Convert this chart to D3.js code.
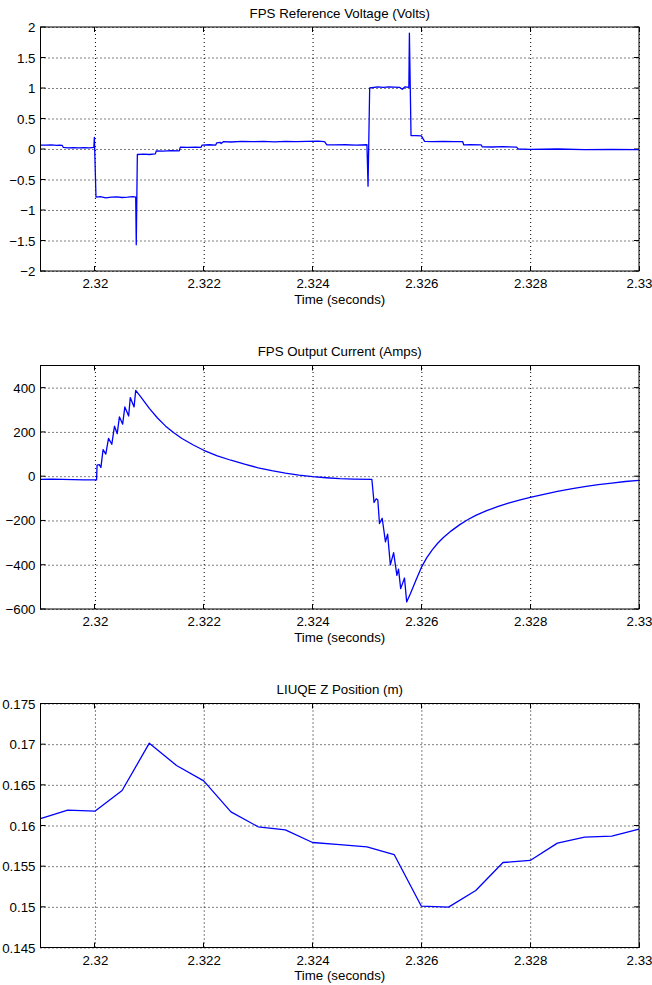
<!DOCTYPE html>
<html>
<head>
<meta charset="utf-8">
<script src="https://cdn.jsdelivr.net/npm/d3@7"></script>
<style>
  html, body { margin: 0; padding: 0; background: #fff; }
  svg { display: block; }
  text { font-family: "Liberation Sans", Arial, Helvetica, sans-serif; fill: #000; }
</style>
</head>
<body>
<svg id="chart" width="652" height="985"></svg>
<script>
// ---------------- DATA ----------------
const xTicks = [2.32, 2.322, 2.324, 2.326, 2.328, 2.33];
const xTickLabels = ["2.32", "2.322", "2.324", "2.326", "2.328", "2.33"];

const titles = ["FPS Reference Voltage (Volts)", "FPS Output Current (Amps)", "LIUQE Z Position (m)"];
const xLabel = "Time (seconds)";

// Panel 1: FPS reference voltage
const voltTicks = [-2, -1.5, -1, -0.5, 0, 0.5, 1, 1.5, 2];
const voltTickLabels = ["\u22122", "\u22121.5", "\u22121", "\u22120.5", "0", "0.5", "1", "1.5", "2"];
const voltT = [
  2.31900, 2.31910, 2.31920, 2.31930, 2.31935, 2.31940, 2.31942, 2.31950, 2.31960, 2.31970,
  2.31980, 2.31990, 2.31998, 2.31999, 2.32002, 2.32010, 2.32020, 2.32030, 2.32040, 2.32050,
  2.32060, 2.32070, 2.32075, 2.32076, 2.32078, 2.32090, 2.32100, 2.32111, 2.32113, 2.32125,
  2.32140, 2.32155, 2.32157, 2.32170, 2.32185, 2.32195, 2.32197, 2.32210, 2.32222, 2.32224,
  2.32230, 2.32232, 2.32236, 2.32250, 2.32270, 2.32290, 2.32310, 2.32330, 2.32350, 2.32370,
  2.32390, 2.32410, 2.32422, 2.32426, 2.32440, 2.32460, 2.32480, 2.32500, 2.32502, 2.32505,
  2.32520, 2.32530, 2.32540, 2.32550, 2.32560, 2.32565, 2.32570, 2.32577, 2.32578, 2.32581,
  2.32590, 2.32600, 2.32603, 2.32606, 2.32620, 2.32640, 2.32660, 2.32676, 2.32678, 2.32690,
  2.32710, 2.32712, 2.32730, 2.32750, 2.32775, 2.32778, 2.32800, 2.32850, 2.32900, 2.32950,
  2.33000
];
const voltV = [
  0.065, 0.062, 0.066, 0.060, 0.064, 0.058, 0.025, 0.020, 0.024, 0.018,
  0.022, 0.020, 0.025, 0.190, -0.790, -0.780, -0.800, -0.790, -0.785, -0.795,
  -0.790, -0.780, -0.790, -1.570, -0.090, -0.085, -0.090, -0.080, -0.030, -0.035,
  -0.025, -0.030, 0.030, 0.025, 0.032, 0.028, 0.065, 0.070, 0.065, 0.100,
  0.110, 0.090, 0.120, 0.115, 0.125, 0.120, 0.125, 0.118, 0.125, 0.120,
  0.125, 0.130, 0.120, 0.070, 0.068, 0.070, 0.065, 0.070, -0.610, 1.000,
  1.020, 1.010, 1.020, 1.015, 1.010, 0.980, 1.020, 1.010, 1.900, 0.220,
  0.220, 0.215, 0.170, 0.125, 0.120, 0.125, 0.120, 0.120, 0.066, 0.070,
  0.066, 0.035, 0.033, 0.038, 0.030, 0.000, -0.005, 0.000, -0.010, -0.005,
  -0.010
];

// Panel 2: FPS output current
const currTicks = [-600, -400, -200, 0, 200, 400];
const currTickLabels = ["\u2212600", "\u2212400", "\u2212200", "0", "200", "400"];
const currT = [
  2.31900, 2.31920, 2.31940, 2.31960, 2.31980, 2.32003, 2.32004, 2.32008, 2.32011, 2.32015,
  2.32020, 2.32025, 2.32031, 2.32036, 2.32041, 2.32045, 2.32051, 2.32055, 2.32062, 2.32065,
  2.32072, 2.32075, 2.32085, 2.32100, 2.32115, 2.32130, 2.32145, 2.32160, 2.32180, 2.32200,
  2.32225, 2.32250, 2.32275, 2.32300, 2.32325, 2.32350, 2.32375, 2.32400, 2.32425, 2.32450,
  2.32475, 2.32509, 2.32513, 2.32517, 2.32520, 2.32523, 2.32528, 2.32534, 2.32538, 2.32543,
  2.32549, 2.32555, 2.32558, 2.32562, 2.32569, 2.32573, 2.32580, 2.32590, 2.32600, 2.32610,
  2.32620, 2.32630, 2.32640, 2.32655, 2.32670, 2.32685, 2.32700, 2.32720, 2.32740, 2.32760,
  2.32780, 2.32800, 2.32825, 2.32850, 2.32875, 2.32900, 2.32925, 2.32950, 2.32975, 2.33000
];
const currV = [
  -14, -13, -14, -16, -17, -17, 50, 52, 39, 120,
  100, 171, 144, 226, 192, 268, 235, 313, 272, 355,
  313, 388, 356, 306, 263, 226, 196, 170, 142, 117,
  92, 72, 54, 38, 25, 14, 5, -2, -7, -11,
  -13, -14, -119, -102, -108, -214, -190, -297, -262, -401,
  -345, -448, -420, -508, -460, -568, -530, -470, -412, -368,
  -333, -303, -278, -247, -220, -197, -177, -156, -138, -122,
  -108, -96, -82, -69, -57, -47, -38, -31, -24, -19
];

// Panel 3: LIUQE Z position
const zTicks = [0.145, 0.15, 0.155, 0.16, 0.165, 0.17, 0.175];
const zTickLabels = ["0.145", "0.15", "0.155", "0.16", "0.165", "0.17", "0.175"];
const zT = [
  2.3190, 2.3195, 2.3200, 2.3205, 2.3210, 2.3215, 2.3220, 2.3225, 2.3230, 2.3235,
  2.3240, 2.3245, 2.3250, 2.3255, 2.3260, 2.3265, 2.3270, 2.3275, 2.3280, 2.3285,
  2.3290, 2.3295, 2.3300
];
const zV = [
  0.16086, 0.16189, 0.16176, 0.16430, 0.17012, 0.16738, 0.16549, 0.16168, 0.15984, 0.15947,
  0.15791, 0.15766, 0.15738, 0.15643, 0.15008, 0.14996, 0.15200, 0.15545, 0.15570, 0.15783,
  0.15857, 0.15869, 0.15955
];

// ---------------- LAYOUT ----------------
const svg = d3.select("#chart");
const plotLeft = 40.5, plotW = 598.5;
const fontSize = 13.3;

const panels = [
  { top: 27, h: 244, t: voltT, v: voltV, yDomain: [-2, 2], yTicks: voltTicks, yLabels: voltTickLabels, title: titles[0] },
  { top: 365.5, h: 243.5, t: currT, v: currV, yDomain: [-600, 500], yTicks: currTicks, yLabels: currTickLabels, title: titles[1] },
  { top: 703.5, h: 244, t: zT, v: zV, yDomain: [0.145, 0.175], yTicks: zTicks, yLabels: zTickLabels, title: titles[2] }
];

panels.forEach((p, i) => {
  const x = d3.scaleLinear().domain([2.319, 2.33]).range([0, plotW]);
  const y = d3.scaleLinear().domain(p.yDomain).range([p.h, 0]);
  const g = svg.append("g").attr("transform", `translate(${plotLeft},${p.top})`);

  g.append("rect").attr("width", plotW).attr("height", p.h).attr("fill", "#fff");

  // dotted grid via axes
  const gx = g.append("g").attr("transform", `translate(0,${p.h})`)
    .call(d3.axisBottom(x).tickValues(xTicks).tickSize(-p.h).tickFormat(""));
  const gy = g.append("g")
    .call(d3.axisLeft(y).tickValues(p.yTicks).tickSize(-plotW).tickFormat(""));
  [gx, gy].forEach(a => {
    a.select(".domain").remove();
    a.selectAll("line").attr("stroke", "#000").attr("stroke-width", 1).attr("stroke-dasharray", "1,3");
  });

  // inward tick marks on all sides
  const tl = 5;
  const tm = g.append("g").attr("stroke", "#000").attr("stroke-width", 1);
  xTicks.forEach(v => {
    const px = Math.round(x(v));
    tm.append("line").attr("x1", px).attr("x2", px).attr("y1", p.h).attr("y2", p.h - tl);
    tm.append("line").attr("x1", px).attr("x2", px).attr("y1", 0).attr("y2", tl);
  });
  p.yTicks.forEach(v => {
    const py = y(v);
    tm.append("line").attr("x1", 0).attr("x2", tl).attr("y1", py).attr("y2", py);
    tm.append("line").attr("x1", plotW).attr("x2", plotW - tl).attr("y1", py).attr("y2", py);
  });

  // data line
  const clipId = "clip" + i;
  g.append("clipPath").attr("id", clipId).append("rect")
    .attr("x", -1).attr("y", -1).attr("width", plotW + 2).attr("height", p.h + 2);
  const pts = p.t.map((t, k) => [t, p.v[k]]);
  g.append("path").datum(pts)
    .attr("clip-path", `url(#${clipId})`)
    .attr("fill", "none").attr("stroke", "#0000ff").attr("stroke-width", 1.3)
    .attr("stroke-linejoin", "round")
    .attr("d", d3.line().x(d => x(d[0])).y(d => y(d[1])));

  // box
  g.append("rect").attr("width", plotW).attr("height", p.h)
    .attr("fill", "none").attr("stroke", "#000").attr("stroke-width", 1);

  // tick labels via axes
  const ax = g.append("g").attr("transform", `translate(0,${p.h})`)
    .call(d3.axisBottom(x).tickValues(xTicks).tickSize(0).tickFormat((d, k) => xTickLabels[k]));
  ax.select(".domain").remove();
  ax.selectAll("text").attr("y", 17.3).attr("dy", null)
    .style("font-size", fontSize + "px").style("font-family", "'Liberation Sans', Arial, sans-serif").attr("fill", "#000");

  const ay = g.append("g")
    .call(d3.axisLeft(y).tickValues(p.yTicks).tickSize(0).tickPadding(5).tickFormat((d, k) => p.yLabels[k]));
  ay.select(".domain").remove();
  ay.selectAll("text").attr("dy", "0.34em")
    .style("font-size", fontSize + "px").style("font-family", "'Liberation Sans', Arial, sans-serif").attr("fill", "#000");

  // title & x label
  g.append("text").attr("x", plotW / 2).attr("y", -9.3).attr("text-anchor", "middle")
    .style("font-size", fontSize + "px").text(p.title);
  g.append("text").attr("x", plotW / 2).attr("y", p.h + 32.5).attr("text-anchor", "middle")
    .style("font-size", fontSize + "px").text(xLabel);
});
</script>
</body>
</html>
